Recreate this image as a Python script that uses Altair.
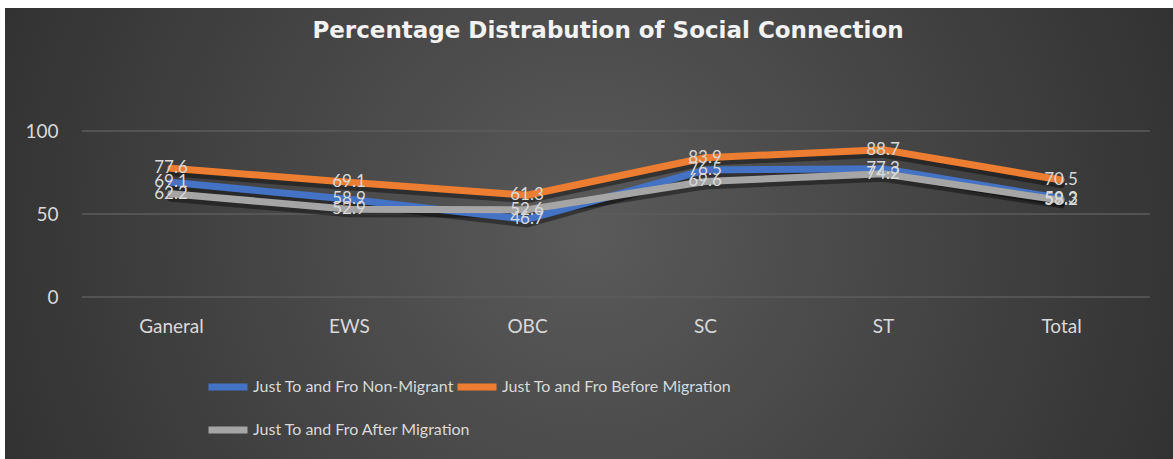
import altair as alt
import pandas as pd

# Categories and series values
categories = ["Ganeral", "EWS", "OBC", "SC", "ST", "Total"]
series_names = [
    "Just To and Fro Non-Migrant",
    "Just To and Fro Before Migration",
    "Just To and Fro After Migration",
]
non_migrant = [69.1, 58.9, 46.7, 76.5, 77.3, 59.3]
before_migration = [77.6, 69.1, 61.3, 83.9, 88.7, 70.5]
after_migration = [62.2, 52.9, 52.6, 69.6, 74.2, 58.2]
y_ticks = [0, 50, 100]
chart_title = "Percentage Distrabution of Social Connection"

series_colors = ["#4472C4", "#ED7D31", "#A5A5A5"]
text_color = "#D9D9D9"
font = "Lato"

rows = []
for name, values in zip(series_names, [non_migrant, before_migration, after_migration]):
    for cat, v in zip(categories, values):
        rows.append({"category": cat, "series": name, "value": v})
df = pd.DataFrame(rows)

W, H = 1068, 166
PAD_L, PAD_T = 82, 131
TOTAL_W, TOTAL_H = 1173, 459

# Dark radial-gradient panel behind everything
panel = alt.Chart(pd.DataFrame({"k": [0]})).mark_rect(
    fill={
        "gradient": "radial",
        "x1": 0.5, "y1": 0.5, "r1": 0,
        "x2": 0.5, "y2": 0.5, "r2": 0.75,
        "stops": [
            {"offset": 0, "color": "#5a5a5a"},
            {"offset": 1, "color": "#222222"},
        ],
    },
).encode(
    x=alt.value(5 - PAD_L),
    x2=alt.value(TOTAL_W - PAD_L),
    y=alt.value(8 - PAD_T),
    y2=alt.value(TOTAL_H - PAD_T),
)

title_layer = alt.Chart(pd.DataFrame({"t": [chart_title]})).mark_text(
    fontSize=23, font="DejaVu Sans", fontWeight="bold", color="#F2F2F2",
    baseline="middle", align="center",
).encode(text="t:N", x=alt.value(608 - PAD_L), y=alt.value(31 - PAD_T))

y_scale = alt.Scale(domain=[0, 100], nice=False)
y_axis = alt.Axis(
    values=y_ticks, domain=False, ticks=False, grid=False, zindex=1,
    labelPadding=24, labelFontSize=19, labelColor=text_color, labelFont=font,
)

# Horizontal gridlines at the tick values
grid = alt.Chart(pd.DataFrame({"value": y_ticks})).mark_rule(
    color="#5c5c5c", strokeWidth=1.5
).encode(y=alt.Y("value:Q", scale=y_scale, axis=y_axis, title=None))

x_enc = alt.X(
    "category:N",
    sort=categories,
    title=None,
    axis=alt.Axis(
        labelAngle=0, domain=False, ticks=False, grid=False, zindex=1,
        labelPadding=20, labelFontSize=19, labelColor=text_color, labelFont=font,
    ),
)
y_enc = alt.Y("value:Q", title=None, scale=y_scale, axis=y_axis)
color_enc = alt.Color(
    "series:N",
    scale=alt.Scale(domain=series_names, range=series_colors),
    legend=alt.Legend(
        title=None,
        orient="none",
        direction="horizontal",
        legendX=205 - PAD_L,
        legendY=364 - PAD_T,
        columns=2,
        gridAlign="none",
        symbolType="stroke",
        symbolSize=1521,
        symbolStrokeWidth=7,
        symbolOpacity=1,
        labelFontSize=16,
        labelFont=font,
        labelColor=text_color,
        labelOffset=2,
        labelLimit=400,
        columnPadding=-28,
        rowPadding=6,
        zindex=1,
    ),
)

base = alt.Chart(df).encode(x=x_enc, y=y_enc)

shadow = base.mark_line(
    color="#000000", opacity=0.4, strokeWidth=8, yOffset=4, strokeCap="round"
).encode(detail="series:N")

lines = [
    base.transform_filter(alt.datum.series == s)
    .mark_line(strokeWidth=7, strokeCap="round", strokeJoin="round")
    .encode(color=color_enc)
    for s in series_names
]

labels = base.mark_text(
    fontSize=17, font=font, color=text_color, baseline="middle", align="center"
).encode(text=alt.Text("value:Q", format=".1f"))

chart = alt.layer(panel, title_layer, grid, shadow, *lines, labels).properties(
    width=W,
    height=H,
    autosize=alt.AutoSizeParams(type="none"),
    padding={"left": PAD_L, "top": PAD_T, "right": TOTAL_W - PAD_L - W, "bottom": TOTAL_H - PAD_T - H},
    background="#ffffff",
).configure_view(stroke=None)

chart.save("out.html", embed_options={"renderer": "svg", "actions": False})
